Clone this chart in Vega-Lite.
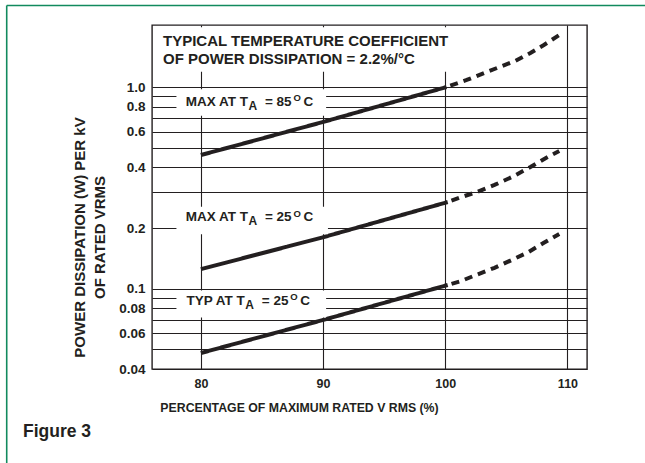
{
  "$schema": "https://vega.github.io/schema/vega-lite/v6.json",
  "width": 435,
  "height": 344,
  "autosize": {"type": "none"},
  "padding": {"left": 152, "top": 25, "right": 58, "bottom": 94},
  "background": "white",
  "config": {
    "font": "Liberation Sans, Arial, sans-serif",
    "view": {"stroke": "#231f20", "strokeWidth": 1.4},
    "text": {"color": "#231f20", "fontWeight": "bold"}
  },
  "datasets": {
    "curves": [
      {"curve": "MAX85", "seg": "solid", "x": 80, "y": 0.46},
      {"curve": "MAX85", "seg": "solid", "x": 90, "y": 0.671},
      {"curve": "MAX85", "seg": "solid", "x": 100.1, "y": 1.0},
      {"curve": "MAX85", "seg": "dashed", "x": 100.1, "y": 1.0},
      {"curve": "MAX85", "seg": "dashed", "x": 101.76, "y": 1.084},
      {"curve": "MAX85", "seg": "dashed", "x": 103.19, "y": 1.174},
      {"curve": "MAX85", "seg": "dashed", "x": 104.45, "y": 1.257},
      {"curve": "MAX85", "seg": "dashed", "x": 105.71, "y": 1.346},
      {"curve": "MAX85", "seg": "dashed", "x": 106.97, "y": 1.475},
      {"curve": "MAX85", "seg": "dashed", "x": 108.07, "y": 1.616},
      {"curve": "MAX85", "seg": "dashed", "x": 109.33, "y": 1.81},
      {"curve": "MAX25", "seg": "solid", "x": 80, "y": 0.125},
      {"curve": "MAX25", "seg": "solid", "x": 90, "y": 0.18},
      {"curve": "MAX25", "seg": "solid", "x": 100.2, "y": 0.269},
      {"curve": "MAX25", "seg": "dashed", "x": 100.2, "y": 0.269},
      {"curve": "MAX25", "seg": "dashed", "x": 101.34, "y": 0.285},
      {"curve": "MAX25", "seg": "dashed", "x": 102.6, "y": 0.302},
      {"curve": "MAX25", "seg": "dashed", "x": 104.03, "y": 0.327},
      {"curve": "MAX25", "seg": "dashed", "x": 105.46, "y": 0.358},
      {"curve": "MAX25", "seg": "dashed", "x": 106.97, "y": 0.401},
      {"curve": "MAX25", "seg": "dashed", "x": 108.24, "y": 0.445},
      {"curve": "MAX25", "seg": "dashed", "x": 109.33, "y": 0.482},
      {"curve": "TYP25", "seg": "solid", "x": 80, "y": 0.048},
      {"curve": "TYP25", "seg": "solid", "x": 90, "y": 0.07},
      {"curve": "TYP25", "seg": "solid", "x": 100.2, "y": 0.1044},
      {"curve": "TYP25", "seg": "dashed", "x": 100.2, "y": 0.1044},
      {"curve": "TYP25", "seg": "dashed", "x": 101.26, "y": 0.109},
      {"curve": "TYP25", "seg": "dashed", "x": 102.52, "y": 0.117},
      {"curve": "TYP25", "seg": "dashed", "x": 104.03, "y": 0.127},
      {"curve": "TYP25", "seg": "dashed", "x": 105.46, "y": 0.139},
      {"curve": "TYP25", "seg": "dashed", "x": 106.81, "y": 0.152},
      {"curve": "TYP25", "seg": "dashed", "x": 108.07, "y": 0.169},
      {"curve": "TYP25", "seg": "dashed", "x": 109.33, "y": 0.187}
    ],
    "boxes": [
      {"x0": 76.1, "x1": 101.3, "y0": 1.19, "y1": 1.98},
      {"x0": 78.0, "x1": 90.25, "y0": 0.72, "y1": 0.975},
      {"x0": 78.0, "x1": 90.4, "y0": 0.186, "y1": 0.255},
      {"x0": 78.0, "x1": 90.25, "y0": 0.072, "y1": 0.098}
    ],
    "notes": [
      {"text": "TYPICAL TEMPERATURE COEFFICIENT", "x": 76.9, "y": 1.70},
      {"text": "OF POWER DISSIPATION = 2.2%/°C", "x": 76.9, "y": 1.38}
    ],
    "labels": [
      {"name": "MAX AT T", "eq": "= 85", "x": 83.85, "y": 0.845},
      {"name": "MAX AT T", "eq": "= 25", "x": 83.85, "y": 0.2255},
      {"name": "TYP AT T", "eq": "= 25", "x": 83.6, "y": 0.0874}
    ],
    "caption": [
      {"text": "Figure 3", "x": 65.44, "y": 0.0195}
    ],
    "frame": [
      {"x0": 64.11, "x1": 116.35, "y0": 2.537, "y1": 2.537},
      {"x0": 64.11, "x1": 64.11, "y0": 2.537, "y1": 0.01368}
    ]
  },
  "layer": [
    {
      "data": {"name": "curves"},
      "mark": {"type": "line", "strokeWidth": 4, "color": "#231f20", "strokeDashOffset": 10},
      "encoding": {
        "x": {
          "field": "x",
          "type": "quantitative",
          "scale": {"domain": [76, 111.6], "nice": false, "zero": false},
          "axis": {
            "values": [80, 90, 100, 110],
            "grid": true,
            "gridColor": "#231f20",
            "gridWidth": 1.1,
            "gridOpacity": 1,
            "domain": false,
            "ticks": false,
            "labelFontSize": 12.5,
            "labelFontWeight": "bold",
            "labelColor": "#231f20",
            "labelPadding": 8,
            "title": "PERCENTAGE OF MAXIMUM RATED V RMS (%)",
            "titleFontSize": 12.3,
            "titleFontWeight": "bold",
            "titleColor": "#231f20",
            "titleX": 147,
            "titleY": 38,
            "titleAlign": "center",
            "titleBaseline": "middle"
          }
        },
        "y": {
          "field": "y",
          "type": "quantitative",
          "scale": {"type": "log", "domain": [0.04, 2.03], "nice": false},
          "axis": {
            "values": [0.04, 0.05, 0.06, 0.07, 0.08, 0.09, 0.1, 0.2, 0.3, 0.4, 0.5, 0.6, 0.7, 0.8, 0.9, 1],
            "labelExpr": "indexof([0.04, 0.06, 0.08, 0.1, 0.2, 0.4, 0.6, 0.8, 1], datum.value) >= 0 ? (datum.value == 1 ? '1.0' : format(datum.value, '~g')) : ''",
            "grid": true,
            "gridColor": "#231f20",
            "gridWidth": 1.1,
            "gridOpacity": 1,
            "domain": false,
            "ticks": false,
            "labelFontSize": 13.5,
            "labelFontWeight": "bold",
            "labelColor": "#231f20",
            "labelPadding": 7,
            "title": ["POWER DISSIPATION (W) PER kV", "OF RATED VRMS"],
            "titleFontSize": 15,
            "titleFontWeight": "bold",
            "titleColor": "#231f20",
            "titleAngle": 270,
            "titleX": -73,
            "titleY": 212,
            "titleAlign": "center",
            "titleBaseline": "middle",
            "titleLineHeight": 20
          }
        },
        "detail": {"field": "curve"},
        "strokeDash": {
          "field": "seg",
          "type": "nominal",
          "scale": {"domain": ["solid", "dashed"], "range": [[1, 0], [8, 6]]},
          "legend": null
        }
      }
    },
    {
      "data": {"name": "boxes"},
      "mark": {"type": "rect", "fill": "white", "strokeWidth": 0},
      "encoding": {
        "x": {"field": "x0", "type": "quantitative"},
        "x2": {"field": "x1"},
        "y": {"field": "y0", "type": "quantitative"},
        "y2": {"field": "y1"}
      }
    },
    {
      "data": {"name": "notes"},
      "mark": {"type": "text", "align": "left", "baseline": "middle", "fontSize": 15},
      "encoding": {
        "x": {"field": "x", "type": "quantitative"},
        "y": {"field": "y", "type": "quantitative"},
        "text": {"field": "text"}
      }
    },
    {
      "data": {"name": "labels"},
      "mark": {"type": "text", "align": "right", "baseline": "middle", "fontSize": 13.5},
      "encoding": {
        "x": {"field": "x", "type": "quantitative"},
        "y": {"field": "y", "type": "quantitative"},
        "text": {"field": "name"}
      }
    },
    {
      "data": {"name": "labels"},
      "mark": {"type": "text", "align": "left", "baseline": "middle", "fontSize": 12, "dx": 0.5, "dy": 4},
      "encoding": {
        "x": {"field": "x", "type": "quantitative"},
        "y": {"field": "y", "type": "quantitative"},
        "text": {"value": "A"}
      }
    },
    {
      "data": {"name": "labels"},
      "mark": {"type": "text", "align": "left", "baseline": "middle", "fontSize": 13.5, "dx": 17},
      "encoding": {
        "x": {"field": "x", "type": "quantitative"},
        "y": {"field": "y", "type": "quantitative"},
        "text": {"field": "eq"}
      }
    },
    {
      "data": {"name": "labels"},
      "mark": {"type": "text", "align": "left", "baseline": "middle", "fontSize": 9.5, "dx": 45.5, "dy": -3.5},
      "encoding": {
        "x": {"field": "x", "type": "quantitative"},
        "y": {"field": "y", "type": "quantitative"},
        "text": {"value": "O"}
      }
    },
    {
      "data": {"name": "labels"},
      "mark": {"type": "text", "align": "left", "baseline": "middle", "fontSize": 13.5, "dx": 55.5},
      "encoding": {
        "x": {"field": "x", "type": "quantitative"},
        "y": {"field": "y", "type": "quantitative"},
        "text": {"value": "C"}
      }
    },
    {
      "data": {"name": "caption"},
      "mark": {"type": "text", "align": "left", "baseline": "middle", "fontSize": 17.5, "clip": false},
      "encoding": {
        "x": {"field": "x", "type": "quantitative"},
        "y": {"field": "y", "type": "quantitative"},
        "text": {"field": "text"}
      }
    },
    {
      "data": {"name": "frame"},
      "mark": {"type": "rule", "color": "#128a5e", "strokeWidth": 1.6, "clip": false},
      "encoding": {
        "x": {"field": "x0", "type": "quantitative"},
        "x2": {"field": "x1"},
        "y": {"field": "y0", "type": "quantitative"},
        "y2": {"field": "y1"}
      }
    }
  ]
}
